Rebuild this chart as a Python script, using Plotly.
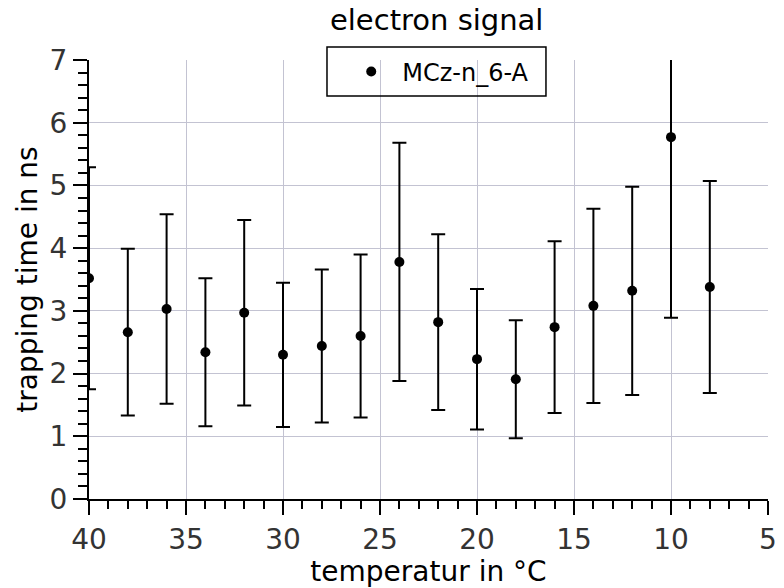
import plotly.graph_objects as go

# Temperature steps (°C) and measured trapping times (ns) with uncertainties
temperature = [40, 38, 36, 34, 32, 30, 28, 26, 24, 22, 20, 18, 16, 14, 12, 10, 8]
trap_time = [3.52, 2.66, 3.03, 2.34, 2.97, 2.30, 2.44, 2.60, 3.78, 2.82, 2.23, 1.91,
             2.74, 3.08, 3.32, 5.77, 3.38]
trap_err = [1.77, 1.33, 1.51, 1.18, 1.48, 1.15, 1.22, 1.30, 1.90, 1.40, 1.12, 0.94,
            1.37, 1.55, 1.66, 2.88, 1.69]

x_ticks = [40, 35, 30, 25, 20, 15, 10, 5]
y_ticks = [0, 1, 2, 3, 4, 5, 6, 7]

FONT = "DejaVu Sans"
GRID = "rgb(195,195,210)"

fig = go.Figure()
fig.add_trace(go.Scatter(
    x=temperature, y=trap_time, mode="markers", name="MCz-n_6-A",
    marker=dict(color="black", size=10),
    error_y=dict(type="data", array=trap_err, visible=True,
                 color="black", thickness=2, width=7),
))

# frame drawn around the legend entry
fig.add_shape(type="rect", xref="paper", yref="paper",
              x0=0.3505, x1=0.673, y0=0.918, y1=1.0296,
              line=dict(color="black", width=1.5), fillcolor="rgba(0,0,0,0)",
              layer="above")

fig.update_layout(
    width=784, height=588,
    margin=dict(l=89, r=16, t=60, b=89),
    plot_bgcolor="white", paper_bgcolor="white",
    font=dict(family=FONT, color="black"),
    title=dict(text="electron signal", x=0.557, xanchor="center",
               y=0.966, yanchor="middle", font=dict(size=29, color="black")),
    showlegend=True,
    legend=dict(x=0.37, xanchor="left", y=0.9727, yanchor="middle",
                borderwidth=0, bgcolor="rgba(0,0,0,0)",
                font=dict(size=24, color="black"),
                itemwidth=52),
    xaxis=dict(
        range=[40, 5], tickvals=x_ticks, ticktext=[str(v) for v in x_ticks],
        automargin=False,
        showline=True, linecolor="black", linewidth=2,
        ticks="outside", ticklen=14, tickwidth=2, tickcolor="black",
        minor=dict(dtick=1, ticks="outside", ticklen=8, tickwidth=2,
                   tickcolor="black", showgrid=False),
        showgrid=True, gridcolor=GRID, gridwidth=1,
        zeroline=False, mirror=False,
        tickfont=dict(size=28, color="#333"),
        title=dict(text="temperatur in °C", font=dict(size=28, color="black"),
                   standoff=4),
    ),
    yaxis=dict(
        range=[0, 7], tickvals=y_ticks, ticktext=[str(v) for v in y_ticks],
        automargin=False,
        showline=True, linecolor="black", linewidth=2,
        ticks="outside", ticklen=14, tickwidth=2, tickcolor="black",
        minor=dict(dtick=0.2, ticks="outside", ticklen=9, tickwidth=2,
                   tickcolor="black", showgrid=False),
        showgrid=True, gridcolor=GRID, gridwidth=1,
        zeroline=False, mirror=False,
        tickfont=dict(size=28, color="#333"),
        title=dict(text="trapping time in ns", font=dict(size=28, color="black"),
                   standoff=4),
    ),
)

fig.write_html("out.html")
